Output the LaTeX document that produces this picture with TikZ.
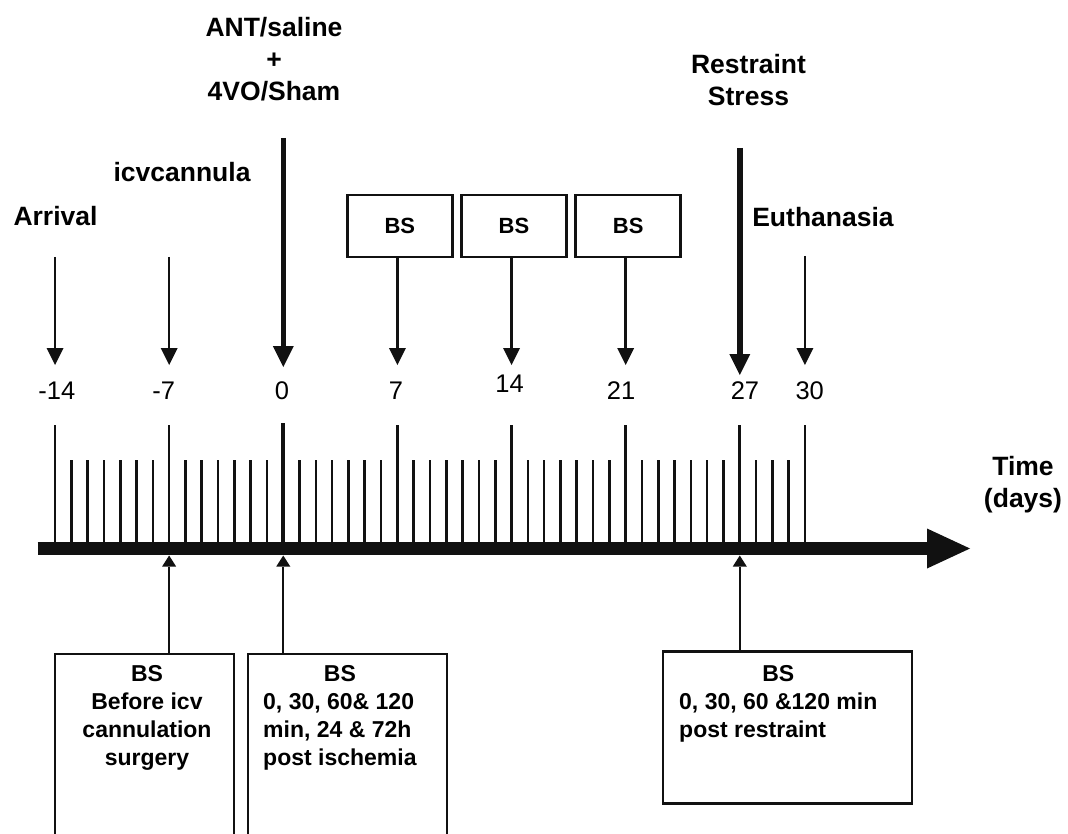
\documentclass[tikz,border=0pt]{standalone}
\usepackage{fontspec}
\setmainfont{Liberation Sans}
\usepackage{tikz}
\usetikzlibrary{arrows.meta,calc,positioning}
\definecolor{ink}{HTML}{111111}

\begin{document}
\begin{tikzpicture}[x=1pt,y=-1pt,
  lbl/.style={font=\fontsize{26.5}{32}\selectfont\bfseries,inner sep=0pt,align=center},
  num/.style={font=\fontsize{25.5}{30}\selectfont,inner sep=0pt},
  bsbox/.style={draw=ink,line width=2.6pt,minimum width=105pt,minimum height=62pt,inner sep=0pt,font=\fontsize{22}{26}\selectfont\bfseries},
  lowbox/.style={draw=ink,line width=2.6pt,inner sep=0pt},
  boxtxt/.style={font=\fontsize{23}{28}\selectfont\bfseries,inner sep=0pt},
  thinarr/.style={draw=ink,line width=2.3pt,-{Triangle[length=17pt,width=17pt,line width=0pt]}},
  thickarr/.style={draw=ink,line width=5.5pt,-{Triangle[length=21pt,width=21pt,line width=0pt]}},
  uparr/.style={draw=ink,line width=2.3pt,-{Triangle[length=11pt,width=14pt,line width=0pt]}},
  ticmark/.style={draw=ink,line width=2.6pt}]
  \useasboundingbox (0,0) rectangle (1068,834);

  % day ticks, 16.3 px apart
  \foreach \i in {0,...,46}
    \draw[ticmark] ({55+16.304*\i},548) -- ++(0,-88);
  \foreach \i in {0,7,21,28,35,42,46}
    \draw[ticmark] ({55+16.304*\i},548) -- ++(0,-123);
  \draw[ticmark,line width=3.6pt] ({55+16.304*14},548) -- ++(0,-125);

  % time axis
  \coordinate (axl) at (37.7,548.5);
  \coordinate (axr) at (970,548.5);
  \draw[draw=ink,line width=13pt,-{Triangle[length=43pt,width=40pt,line width=0pt]}] (axl) -- (axr);
  \node[lbl,anchor=north] (time) at (1023,456) {Time\\(days)};

  % day numbers
  \foreach \i/\d/\dx/\by in {0/-14/1.8/399,7/-7/-5.5/399,14/0/-1.3/399,21/7/-1.4/399,
                             28/14/-1.9/392,35/21/-4.6/399,42/27/5.2/399,46/30/4.7/399}{
    \node[num,anchor=base] (n\i) at ({55+16.304*\i+\dx},\by) {\d};
    \coordinate (h\i) at ({55+16.304*\i},365);
    \coordinate (u\i) at ({55+16.304*\i},555.5);
  }

  % events above the axis
  \node[lbl,anchor=base] (arrival) at (55.5,226) {Arrival};
  \node[lbl,anchor=base] (icv) at (182,182) {icvcannula};
  \node[lbl,anchor=north] (ant) at (274,17) {ANT/saline\\+\\4VO/Sham};
  \node[lbl,anchor=north] (restr) at (748.5,54) {Restraint\\Stress};
  \node[lbl,anchor=base] (euth) at (823,226.5) {Euthanasia};

  \coordinate (t0) at (h0 |- 0,257);
  \coordinate (t7) at (h7 |- 0,257);
  \coordinate (t46) at (h46 |- 0,256);
  \draw[thinarr] (t0) -- (h0);
  \draw[thinarr] (t7) -- (h7);
  \draw[thinarr] (t46) -- (h46);
  \coordinate (t14) at (h14 |- 0,138);
  \coordinate (t42) at (h42 |- 0,148);
  \draw[thickarr] (t14) -- ($(h14)+(0,2)$);
  \draw[thickarr] (t42) -- ($(h42)+(0,10)$);

  \node[bsbox] (bs7) at ({55+16.304*21+2.5},226) {BS};
  \node[bsbox] (bs14) at ({55+16.304*28+2.5},226) {BS};
  \node[bsbox] (bs21) at ({55+16.304*35+2.5},226) {BS};
  \draw[thinarr] (h21 |- bs7.south) -- (h21);
  \draw[thinarr] (h28 |- bs14.south) -- (h28);
  \draw[thinarr] (h35 |- bs21.south) -- (h35);

  % sampling boxes below the axis
  \begin{scope}
    \clip (0,0) rectangle (1068,834);
    \node[lowbox,minimum width=179pt,minimum height=200pt,anchor=north] (low1) at (144.5,652.7) {};
    \node[lowbox,minimum width=199pt,minimum height=200pt,anchor=north] (low2) at (347.5,652.7) {};
  \end{scope}
  \node[lowbox,minimum width=249pt,minimum height=152pt,anchor=north] (low3) at (787.5,650) {};

  \node[boxtxt,anchor=north] (txt1) at (147,662)
    {\begin{tabular}{@{}c@{}}BS\\Before icv\\cannulation\\surgery\end{tabular}};
  \node[boxtxt,anchor=north west] (txt2) at (263,662)
    {\begin{tabular}{@{}l@{}}\multicolumn{1}{@{}c@{}}{BS}\\0, 30, 60\& 120\\min, 24 \& 72h\\post ischemia\end{tabular}};
  \node[boxtxt,anchor=north west] (txt3) at (679,662)
    {\begin{tabular}{@{}l@{}}\multicolumn{1}{@{}c@{}}{BS}\\0, 30, 60 \&120 min\\post restraint\end{tabular}};

  \draw[uparr] (u7 |- low1.north) -- (u7);
  \draw[uparr] (u14 |- low2.north) -- (u14);
  \draw[uparr] (u42 |- low3.north) -- (u42);
\end{tikzpicture}
\end{document}
